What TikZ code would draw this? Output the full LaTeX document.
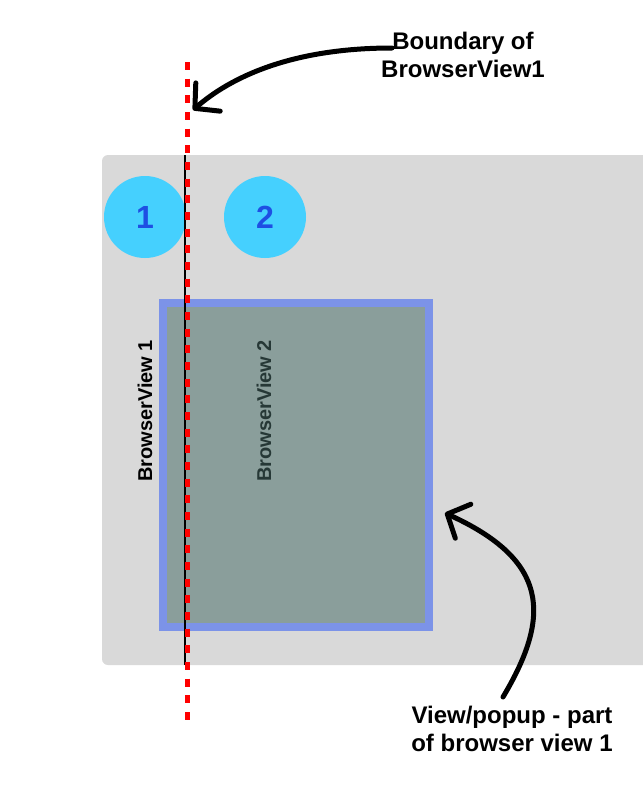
\documentclass[tikz,border=0pt]{standalone}
\usepackage{fontspec}
\setmainfont{Liberation Sans}
\usetikzlibrary{arrows.meta,positioning}
\definecolor{panelgray}{HTML}{D9D9D9}
\definecolor{badgecyan}{HTML}{45D0FE}
\definecolor{badgeblue}{HTML}{1E4FE3}
\definecolor{popupblue}{HTML}{7C93E8}
\definecolor{popupfill}{HTML}{8A9E9B}
\definecolor{bvtext}{HTML}{263836}
\tikzset{
  badge/.style={circle, fill=badgecyan, minimum size=61.5pt, inner sep=0pt, text=badgeblue, font=\bfseries\fontsize{24}{28}\selectfont},
  note/.style={align=center, inner sep=0pt, font=\bfseries\fontsize{18}{21.5}\selectfont},
  viewlabel/.style={rotate=90, inner sep=0pt, font=\bfseries\fontsize{15}{18}\selectfont},
  popupbox/.style={draw=popupblue, line width=6pt, fill=popupfill, inner sep=0pt, minimum width=199.5pt, minimum height=243pt},
  pointer/.style={draw, line width=3.75pt, line cap=round, -{Straight Barb[length=13pt,width=28pt,round]}},
  boundaryline/.style={draw=red, line width=3.75pt, dash pattern=on 6pt off 6.5pt}
}
\begin{document}
\begin{tikzpicture}[x=0.75pt, y=-0.75pt]
  \useasboundingbox (0,0) rectangle (643,801);
  \clip (0,0) rectangle (643,801);
  % window panel
  \fill[panelgray, rounded corners=4.5pt] (102,155) rectangle (700,665);
  \node[badge] (one) at (145,217) {1};
  \node[badge] (two) at (265,217) {2};
  \node[popupbox] (popup) at (296,465) {};
  \node[viewlabel] (bv1) at (145,411) {BrowserView 1};
  \node[viewlabel, text=bvtext] (bv2) at (264,411) {BrowserView 2};
  % boundary of view 1
  \coordinate (edgetop) at (185,155);
  \coordinate (edgebottom) at (185,665);
  \draw[line width=1.5pt] (edgetop) -- (edgebottom);
  \coordinate (dashtop) at (187.5,62);
  \coordinate (dashbottom) at (187.5,722);
  \path[boundaryline] (dashtop) -- (dashbottom);
  % notes
  \node[note] (boundary) at (463,55) {Boundary of\\BrowserView1};
  \node[note] (popnote) at (512,729) {View/popup - part\\of browser view 1};
  \coordinate (btail) at (392,48);
  \coordinate (btip) at (193,110);
  \path[pointer] (btail) .. controls (290,48) and (230,78) .. (btip);
  \coordinate (ptail) at (503,697);
  \coordinate (ptip) at (445,513);
  \path[pointer] (ptail) .. controls (552,615) and (548,560) .. (ptip);
\end{tikzpicture}
\end{document}
